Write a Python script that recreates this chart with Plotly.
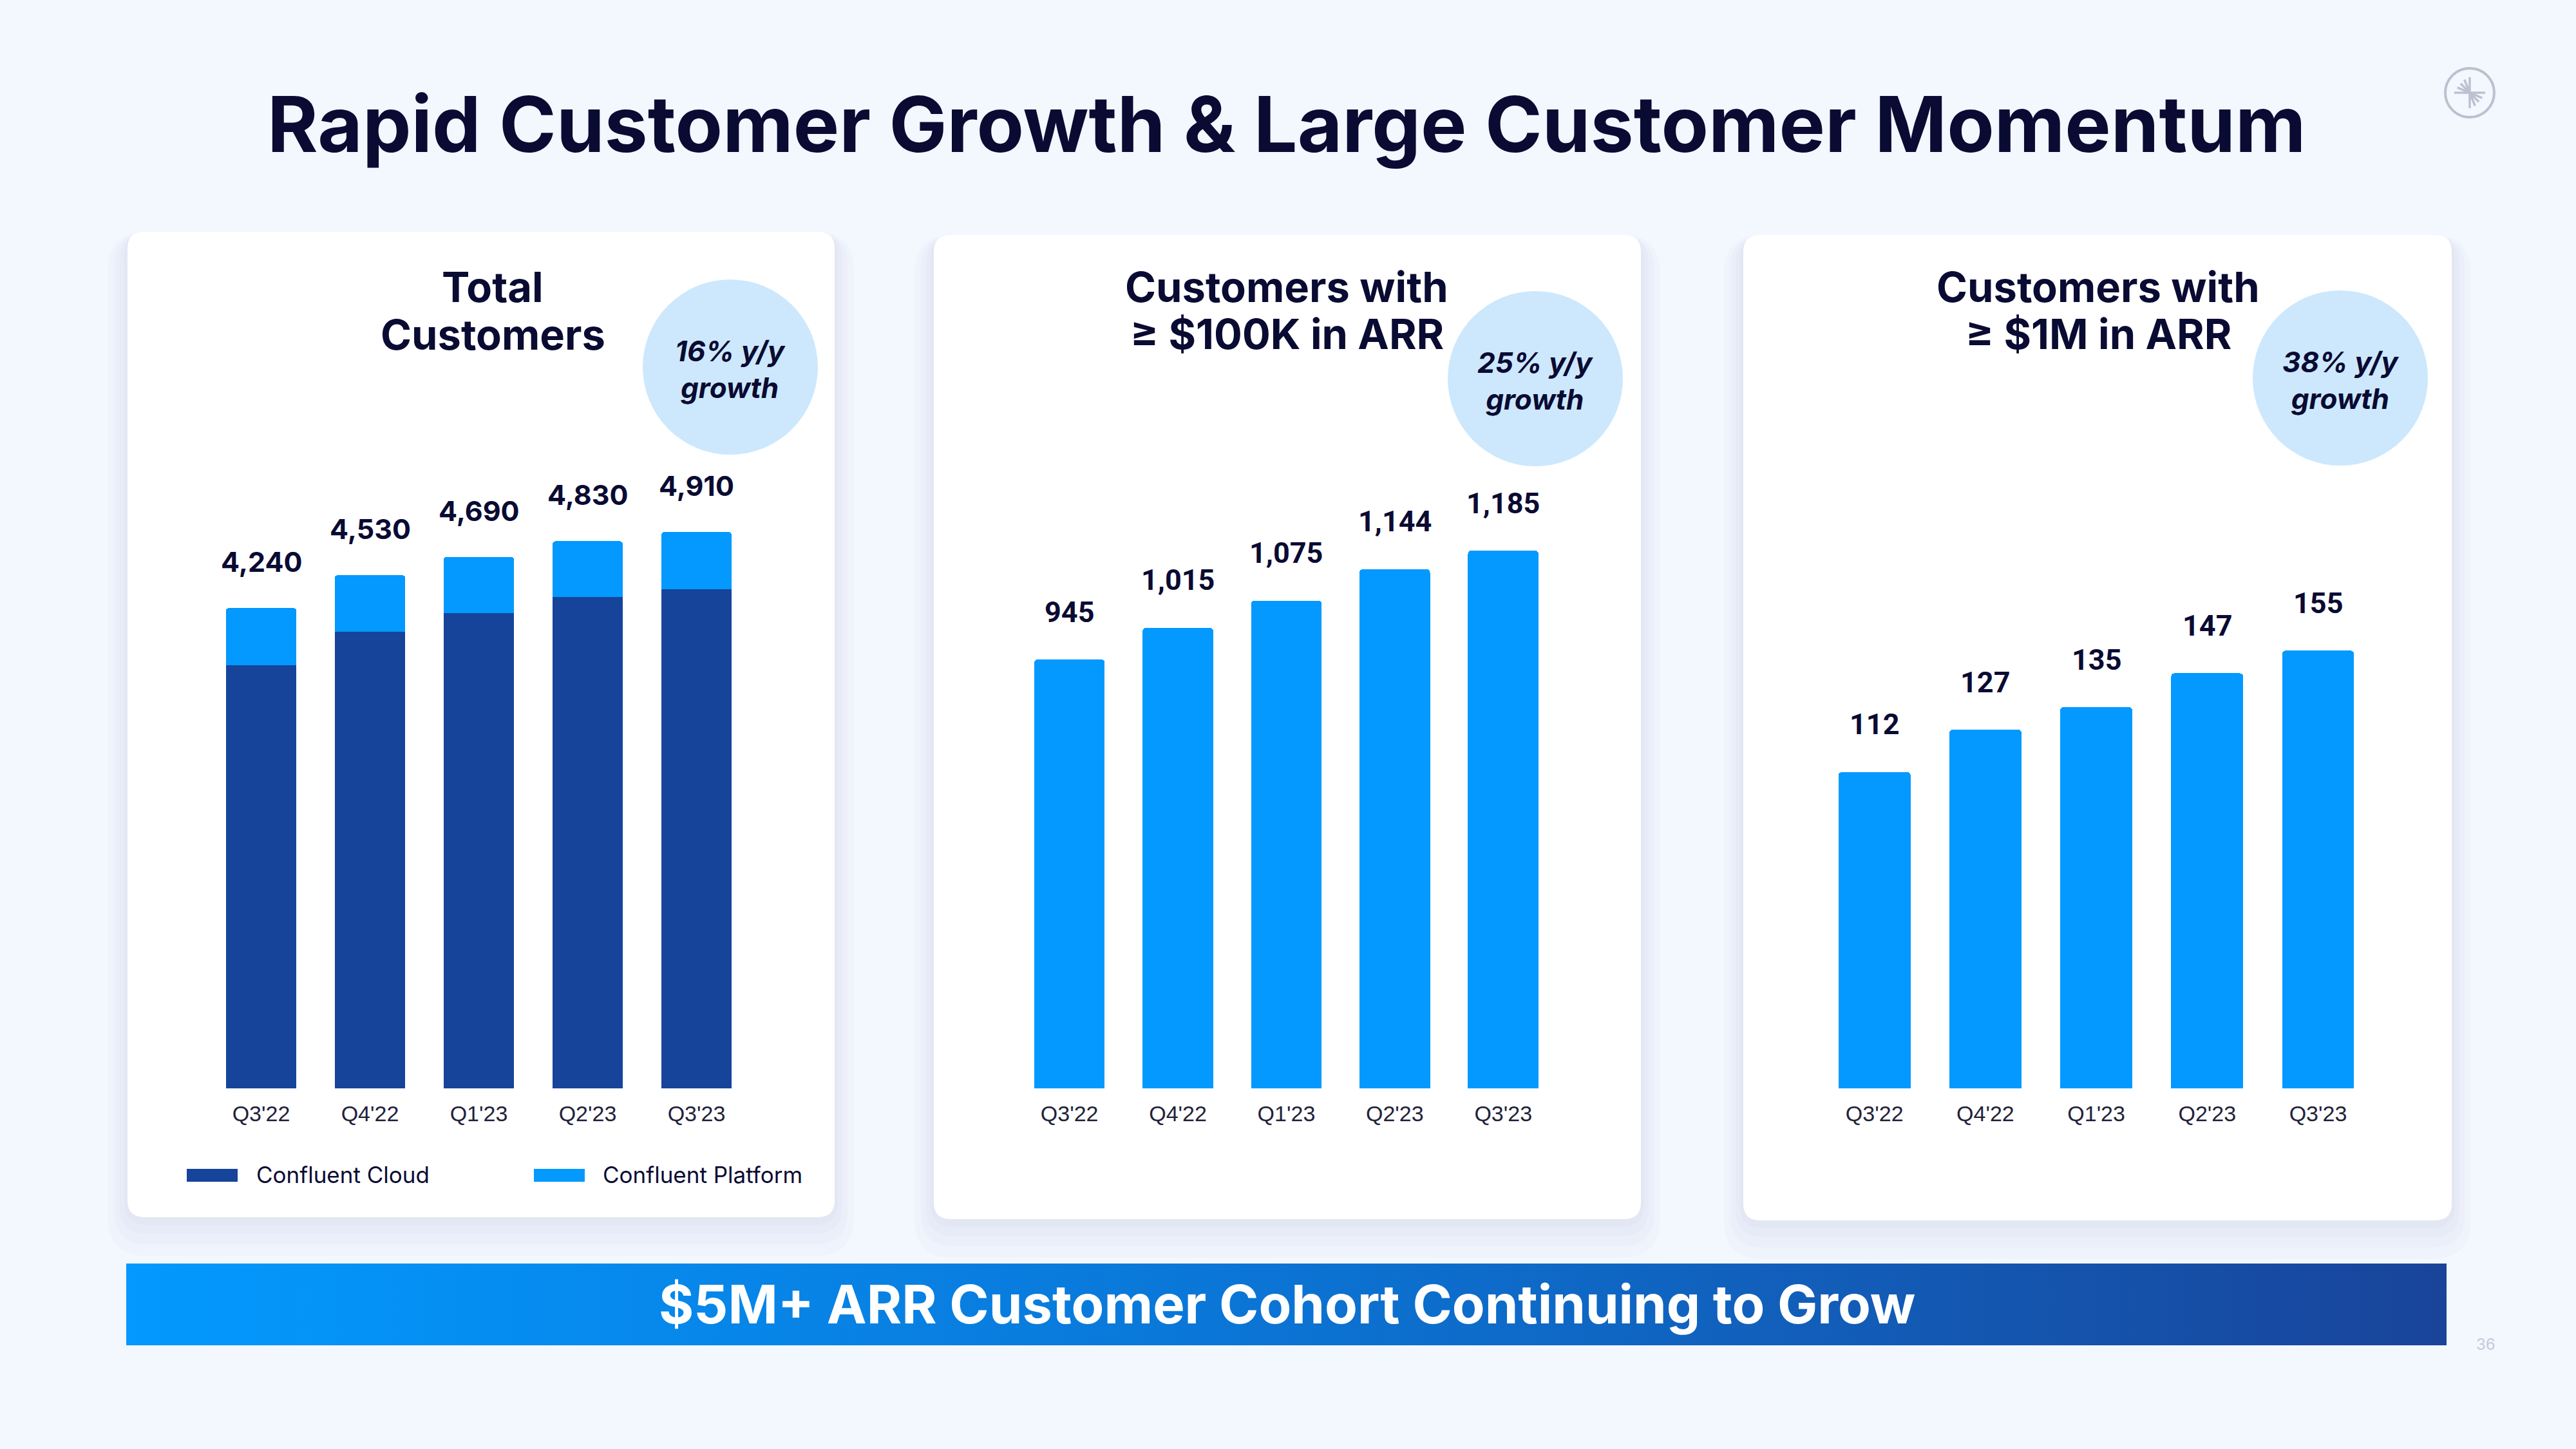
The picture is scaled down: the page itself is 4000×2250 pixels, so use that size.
import math
import plotly.graph_objects as go

# ---------------- data ----------------
quarters = ["Q3'22", "Q4'22", "Q1'23", "Q2'23", "Q3'23"]
total_customers = [4240, 4530, 4690, 4830, 4910]
cloud_customers = [3735, 4030, 4195, 4340, 4405]
platform_customers = [505, 500, 495, 490, 505]
customers_100k = [945, 1015, 1075, 1144, 1185]
customers_1m = [112, 127, 135, 147, 155]
panel_titles = [["Total", "Customers"], ["Customers with", "≥ $100K in ARR"], ["Customers with", "≥ $1M in ARR"]]
growth_texts = ["16% y/y<br>growth", "25% y/y<br>growth", "38% y/y<br>growth"]
legend_names = ["Confluent Cloud", "Confluent Platform"]

# ---------------- style ----------------
W, H = 4000, 2250
BG = "#F3F7FE"
NAVY = "#0A0B33"
DARK_BLUE = "#16449A"
LIGHT_BLUE = "#0399FE"
CIRCLE = "#CDE8FC"
TITLE_FONT = "Inter"


def px(x):
    return x / W


def py(y):
    return 1 - y / H


def rounded_path(x0, y0, x1, y1, r):
    rx, ry = r / W, r / H
    X0, X1 = px(x0), px(x1)
    Y0, Y1 = py(y0), py(y1)
    return (f"M {X0+rx},{Y0} L {X1-rx},{Y0} Q {X1},{Y0} {X1},{Y0-ry} "
            f"L {X1},{Y1+ry} Q {X1},{Y1} {X1-rx},{Y1} "
            f"L {X0+rx},{Y1} Q {X0},{Y1} {X0},{Y1+ry} "
            f"L {X0},{Y0-ry} Q {X0},{Y0} {X0+rx},{Y0} Z")


fig = go.Figure()

fig.add_trace(go.Bar(x=quarters, y=cloud_customers, name=legend_names[0],
                     marker=dict(color=DARK_BLUE, line=dict(width=0)),
                     xaxis="x", yaxis="y", showlegend=False))
fig.add_trace(go.Bar(x=quarters, y=platform_customers, name=legend_names[1],
                     marker=dict(color=LIGHT_BLUE, line=dict(width=0), cornerradius=5),
                     xaxis="x", yaxis="y", showlegend=False))
fig.add_trace(go.Bar(x=quarters, y=customers_100k, name="≥ $100K in ARR",
                     marker=dict(color=LIGHT_BLUE, line=dict(width=0), cornerradius=5),
                     xaxis="x2", yaxis="y2", showlegend=False))
fig.add_trace(go.Bar(x=quarters, y=customers_1m, name="≥ $1M in ARR",
                     marker=dict(color=LIGHT_BLUE, line=dict(width=0), cornerradius=5),
                     xaxis="x3", yaxis="y3", showlegend=False))

# banner with horizontal gradient
fig.add_trace(go.Scatter(x=[0, 1, 1, 0, 0], y=[0, 0, 1, 1, 0], mode="lines",
                         line=dict(width=0), fill="toself",
                         fillgradient=dict(type="horizontal",
                                           colorscale=[[0, "#0399FE"], [0.45, "#0A78D9"], [1, "#19449A"]]),
                         hoverinfo="skip", showlegend=False, xaxis="x4", yaxis="y4"))

plot_top, plot_bottom = 700, 1690
ydom = [py(plot_bottom), py(plot_top)]
tickfont = dict(family="Liberation Sans, Arial", size=34, color="#22223A")
xcommon = dict(showgrid=False, zeroline=False, showline=False, ticks="",
               tickfont=tickfont, ticklabelstandoff=16, fixedrange=True)
ycommon = dict(visible=False, showgrid=False, zeroline=False, fixedrange=True)

layout_axes = dict(
    xaxis=dict(domain=[px(321), px(1166)], range=[-0.5, 4.5], anchor="y", **xcommon),
    xaxis2=dict(domain=[px(1576.5), px(2418.4)], range=[-0.5, 4.5], anchor="y2", **xcommon),
    xaxis3=dict(domain=[px(2824.6), px(3685.6)], range=[-0.5, 4.5], anchor="y3", **xcommon),
    yaxis=dict(domain=ydom, range=[0, 5628], anchor="x", **ycommon),
    yaxis2=dict(domain=ydom, range=[0, 1405], anchor="x2", **ycommon),
    yaxis3=dict(domain=ydom, range=[0, 225.8], anchor="x3", **ycommon),
    xaxis4=dict(domain=[px(196), px(3799)], range=[0, 1], visible=False, fixedrange=True, anchor="y4"),
    yaxis4=dict(domain=[py(2089), py(1962)], range=[0, 1], visible=False, fixedrange=True, anchor="x4"),
)

shapes = []
cards = [(198, 360, 1296, 1890), (1450, 365, 2548, 1893), (2707, 365, 3807, 1895)]
for (x0, y0, x1, y1) in cards:
    for grow, dy, op in [(30, 30, 0.10), (20, 22, 0.12), (12, 14, 0.15), (5, 7, 0.2)]:
        shapes.append(dict(type="path", xref="paper", yref="paper", layer="below",
                           path=rounded_path(x0 - grow, y0 - grow + dy, x1 + grow, y1 + grow + dy, 30 + grow),
                           fillcolor=f"rgba(210,216,232,{op})", line=dict(width=0)))
    shapes.append(dict(type="path", xref="paper", yref="paper", layer="below",
                       path=rounded_path(x0, y0, x1, y1, 26),
                       fillcolor="#FFFFFF", line=dict(width=0)))

circles = [(1134, 570), (2384, 588), (3634, 587)]
R = 136
for cx, cy in circles:
    shapes.append(dict(type="circle", xref="paper", yref="paper", layer="below",
                       x0=px(cx - R), x1=px(cx + R), y0=py(cy + R), y1=py(cy - R),
                       fillcolor=CIRCLE, line=dict(width=0)))

legend_items = [(290, 369, 396, DARK_BLUE), (829, 908, 934, LIGHT_BLUE)]
for (sx0, sx1, tx, col) in legend_items:
    shapes.append(dict(type="rect", xref="paper", yref="paper", layer="above",
                       x0=px(sx0), x1=px(sx1), y0=py(1835), y1=py(1815),
                       fillcolor=col, line=dict(width=0)))

# logo (top right)
lcx, lcy, lr = 3835, 144, 38
logo_col = "#BEC0CF"
shapes.append(dict(type="circle", xref="paper", yref="paper",
                   x0=px(lcx - lr), x1=px(lcx + lr), y0=py(lcy + lr), y1=py(lcy - lr),
                   line=dict(color=logo_col, width=4), fillcolor="rgba(0,0,0,0)"))
for ang, ln in [(90, 24), (180, 24), (112, 22), (135, 20), (157, 21),
                (270, 24), (0, 24), (292, 22), (315, 20), (337, 21)]:
    a = math.radians(ang)
    shapes.append(dict(type="line", xref="paper", yref="paper",
                       x0=px(lcx), y0=py(lcy), x1=px(lcx + ln * math.cos(a)), y1=py(lcy - ln * math.sin(a)),
                       line=dict(color=logo_col, width=3.5)))

annotations = []
annotations.append(dict(x=px(1998), y=py(192), xref="paper", yref="paper", showarrow=False,
                        text="Rapid Customer Growth & Large Customer Momentum",
                        font=dict(family=TITLE_FONT, size=120, color=NAVY, weight=700),
                        xanchor="center", yanchor="middle"))
for cxp, lines, ys in zip([765, 1998, 3258], panel_titles, [(446, 520), (446, 518), (446, 518)]):
    for ln_txt, yy in zip(lines, ys):
        annotations.append(dict(x=px(cxp), y=py(yy), xref="paper", yref="paper", showarrow=False,
                                text=ln_txt, align="center",
                                font=dict(family=TITLE_FONT, size=65, color=NAVY, weight=700),
                                xanchor="center", yanchor="middle"))
for (cx, cy), txt in zip(circles, growth_texts):
    annotations.append(dict(x=px(cx), y=py(cy + 4), xref="paper", yref="paper", showarrow=False,
                            text=txt, align="center",
                            font=dict(family=TITLE_FONT, size=44, color=NAVY, weight=700, style="italic"),
                            xanchor="center", yanchor="middle"))
for q, v in zip(quarters, total_customers):
    annotations.append(dict(x=q, y=v, xref="x", yref="y", showarrow=False, text=f"{v:,}",
                            yshift=72, xanchor="center", yanchor="middle",
                            font=dict(family=TITLE_FONT, size=43, color=NAVY, weight=700)))
for q, v in zip(quarters, customers_100k):
    annotations.append(dict(x=q, y=v, xref="x2", yref="y2", showarrow=False, text=f"{v:,}",
                            yshift=74, xanchor="center", yanchor="middle",
                            font=dict(family="Roboto", size=45, color=NAVY, weight=700)))
for q, v in zip(quarters, customers_1m):
    annotations.append(dict(x=q, y=v, xref="x3", yref="y3", showarrow=False, text=f"{v:,}",
                            yshift=74, xanchor="center", yanchor="middle",
                            font=dict(family="Roboto", size=45, color=NAVY, weight=700)))
for (sx0, sx1, tx, col), name in zip(legend_items, legend_names):
    annotations.append(dict(x=px(tx), y=py(1824), xref="paper", yref="paper", showarrow=False,
                            text=name, xanchor="left", yanchor="middle",
                            font=dict(family=TITLE_FONT, size=35, color=NAVY, weight=400)))
annotations.append(dict(x=px(1998), y=py(2025), xref="paper", yref="paper", showarrow=False,
                        text="$5M+ ARR Customer Cohort Continuing to Grow",
                        font=dict(family=TITLE_FONT, size=83, color="#FFFFFF", weight=700),
                        xanchor="center", yanchor="middle"))
annotations.append(dict(x=px(3860), y=py(2087), xref="paper", yref="paper", showarrow=False,
                        text="36", font=dict(family=TITLE_FONT, size=24, color="#C5CAD8"),
                        xanchor="center", yanchor="middle"))

fig.update_layout(
    width=W, height=H, margin=dict(l=0, r=0, t=0, b=0),
    paper_bgcolor=BG, plot_bgcolor="rgba(0,0,0,0)",
    barmode="stack", bargap=0.35,
    shapes=shapes, annotations=annotations,
    showlegend=False,
    **layout_axes,
)

fig.write_html("out.html", config={"displayModeBar": False},
               post_script="document.body.style.margin='0';document.body.style.padding='0';"
                           "document.body.style.background='" + BG + "';")
